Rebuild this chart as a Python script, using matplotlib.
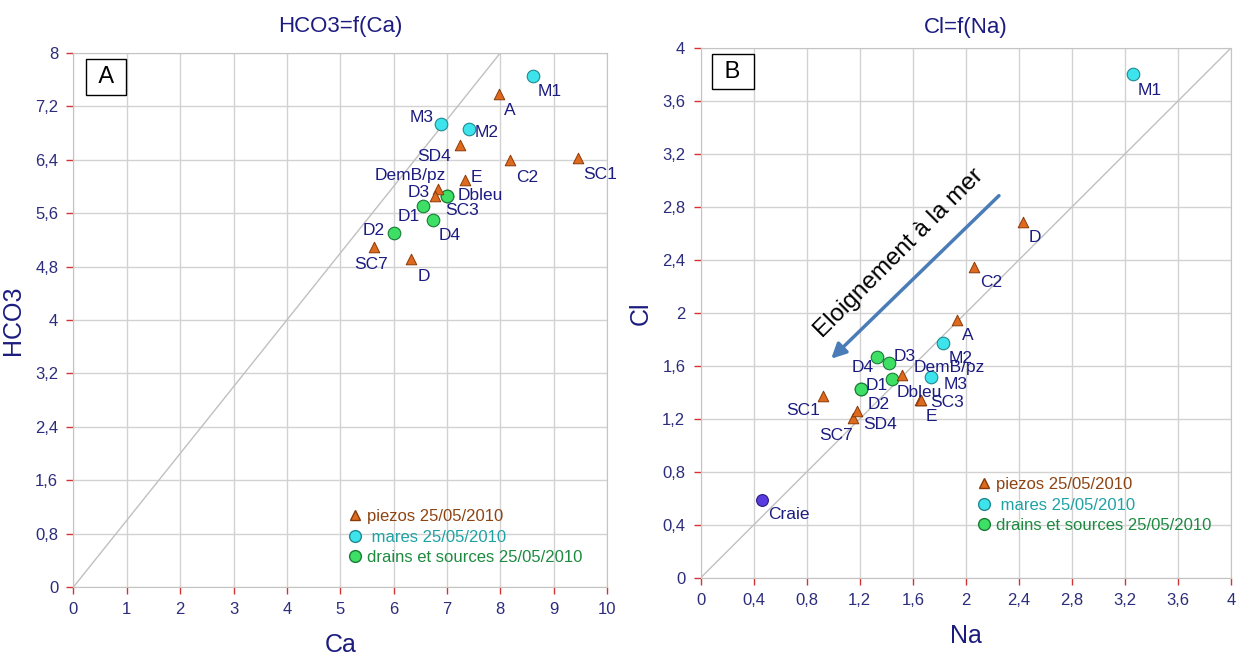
import matplotlib
matplotlib.use('Agg')
import matplotlib.pyplot as plt
from matplotlib.lines import Line2D
from matplotlib.ticker import FuncFormatter

plt.rcParams['font.family'] = ['Liberation Sans', 'DejaVu Sans']

# piezos 25/05/2010
piezo_names = ['A', 'C2', 'D', 'DemB/pz', 'E', 'SC1', 'SC3', 'SC7', 'SD4']
piezo_ca = [7.97, 8.18, 6.33, 6.83, 7.33, 9.46, 6.78, 5.64, 7.25]
piezo_hco3 = [7.39, 6.39, 4.91, 5.96, 6.09, 6.42, 5.86, 5.09, 6.62]
piezo_na = [1.93, 2.06, 2.43, 1.52, 1.655, 0.92, 1.665, 1.15, 1.18]
piezo_cl = [1.945, 2.35, 2.69, 1.53, 1.34, 1.37, 1.345, 1.21, 1.26]

# mares 25/05/2010
mare_names = ['M1', 'M2', 'M3']
mare_ca = [8.61, 7.41, 6.89]
mare_hco3 = [7.66, 6.86, 6.94]
mare_na = [3.26, 1.825, 1.74]
mare_cl = [3.80, 1.77, 1.52]

# drains et sources 25/05/2010
drain_names = ['D1', 'D2', 'D3', 'D4', 'Dbleu']
drain_ca = [6.56, 6.00, 7.00, 6.74, 7.00]
drain_hco3 = [5.71, 5.30, 5.86, 5.50, 5.86]
drain_na = [1.21, 1.21, 1.42, 1.33, 1.44]
drain_cl = [1.43, 1.43, 1.625, 1.67, 1.50]

# craie (Na/Cl only)
craie_names = ['Craie']
craie_na = [0.46]
craie_cl = [0.59]

legend_labels = ['piezos 25/05/2010', ' mares 25/05/2010', 'drains et sources 25/05/2010']

# label offsets in pixels (dx, dy)
off_left = {
    'M1': (17, -16), 'A': (11, -17), 'M3': (-19, 6), 'M2': (18, -3),
    'SD4': (-26, -11), 'C2': (17, -17), 'SC1': (22, -16), 'E': (12, 3),
    'DemB/pz': (-28, 14), 'SC3': (27, -15), 'D3': (-28, 3), 'Dbleu': (33, 0),
    'D1': (-15, -11), 'D4': (17, -16), 'D2': (-20, 3), 'SC7': (-3, -17),
    'D': (13, -17),
}
off_right = {
    'A': (11, -15), 'M2': (18, -15), 'D4': (-14, -11), 'D3': (16, 6),
    'DemB/pz': (47, 8), 'M3': (24, -8), 'Dbleu': (28, -13), 'D1': (16, 3),
    'D2': (18, -16), 'SC1': (-19, -14), 'E': (11, -16), 'SC3': (26, -3),
    'SD4': (23, -13), 'SC7': (-17, -18), 'M1': (17, -16), 'D': (12, -16),
    'C2': (17, -16), 'Craie': (27, -15),
}

NAVY = '#1c1c80'
TRI = dict(marker='^', s=58, color='#dd6a1e', edgecolors='#8a3a08', linewidths=0.7, zorder=4)
CYA = dict(marker='o', s=82, color='#3ee4ec', edgecolors='#1f8a90', linewidths=0.8, zorder=5)
GRN = dict(marker='o', s=82, color='#3de064', edgecolors='#1a7a38', linewidths=0.8, zorder=3)
PUR = dict(marker='o', s=72, color='#5a3be0', edgecolors='#2a1a80', linewidths=0.8, zorder=5)
leg_colors = ['#8e4412', '#1fa2a4', '#1d8a40']


def comma(v, pos):
    return ('%g' % round(v, 1)).replace('.', ',')


def style_axes(ax, xmax, ymax, xstep, ystep, xlabel, ylabel, title, tpad, letter):
    ax.set_xlim(0, xmax)
    ax.set_ylim(0, ymax)
    ax.set_xticks([i * xstep for i in range(int(round(xmax / xstep)) + 1)])
    ax.set_yticks([i * ystep for i in range(int(round(ymax / ystep)) + 1)])
    ax.xaxis.set_major_formatter(FuncFormatter(comma))
    ax.yaxis.set_major_formatter(FuncFormatter(comma))
    ax.tick_params(length=5, width=1, color='#d03434', labelcolor='#2c2c7c',
                   labelsize=12, pad=6)
    ax.grid(True, color='#d2d2d2', lw=1)
    ax.set_axisbelow(True)
    for s in ax.spines.values():
        s.set_color('#c4c4c4')
    ax.plot([0, min(xmax, ymax)], [0, min(xmax, ymax)], color='#c0c0c0', lw=1, zorder=1)
    ax.set_xlabel(xlabel, fontsize=18, color=NAVY, labelpad=11)
    ax.set_ylabel(ylabel, fontsize=18, color=NAVY, labelpad=7)
    ax.set_title(title, fontsize=16, color=NAVY, pad=tpad)
    ax.text(0.061, 0.955, ' ' + letter + ' ', transform=ax.transAxes, fontsize=17,
            ha='center', va='center', zorder=6,
            bbox=dict(boxstyle='square,pad=0.28', fc='white', ec='black', lw=1))


def labels(ax, names, xs, ys, offs):
    for n, x, y in zip(names, xs, ys):
        ax.annotate(n, (x, y), xytext=offs[n], textcoords='offset pixels',
                    ha='center', va='center', fontsize=12.5, color=NAVY, zorder=7)


def legend(ax, anchor):
    handles = [
        Line2D([], [], ls='', marker='^', ms=7, mfc=TRI['color'], mec=TRI['edgecolors']),
        Line2D([], [], ls='', marker='o', ms=8.5, mfc=CYA['color'], mec=CYA['edgecolors']),
        Line2D([], [], ls='', marker='o', ms=8.5, mfc=GRN['color'], mec=GRN['edgecolors']),
    ]
    lg = ax.legend(handles, legend_labels, loc='upper left', bbox_to_anchor=anchor,
                   frameon=False, fontsize=12, handlelength=0.8, handletextpad=0.3,
                   labelspacing=0.33, borderpad=0, borderaxespad=0)
    for t, c in zip(lg.get_texts(), leg_colors):
        t.set_color(c)


fig = plt.figure(figsize=(12.41, 6.58), dpi=100)
ax1 = fig.add_axes([0.0592, 0.1079, 0.4299, 0.8116])
ax2 = fig.add_axes([0.5645, 0.1216, 0.4275, 0.8055])

style_axes(ax1, 10, 8, 1, 0.8, 'Ca', 'HCO3', 'HCO3=f(Ca)', 15, 'A')
ax1.scatter(piezo_ca, piezo_hco3, **TRI)
ax1.scatter(mare_ca, mare_hco3, **CYA)
ax1.scatter(drain_ca, drain_hco3, **GRN)
labels(ax1, piezo_names, piezo_ca, piezo_hco3, off_left)
labels(ax1, mare_names, mare_ca, mare_hco3, off_left)
labels(ax1, drain_names, drain_ca, drain_hco3, off_left)
legend(ax1, (0.516, 0.146))

style_axes(ax2, 4, 4, 0.4, 0.4, 'Na', 'Cl', 'Cl=f(Na)', 11, 'B')
ax2.scatter(piezo_na, piezo_cl, **TRI)
ax2.scatter(mare_na, mare_cl, **CYA)
ax2.scatter(drain_na, drain_cl, **GRN)
ax2.scatter(craie_na, craie_cl, **PUR)
labels(ax2, piezo_names, piezo_na, piezo_cl, off_right)
labels(ax2, mare_names, mare_na, mare_cl, off_right)
labels(ax2, drain_names, drain_na, drain_cl, off_right)
labels(ax2, craie_names, craie_na, craie_cl, off_right)
legend(ax2, (0.522, 0.19))

ax2.annotate('', xy=(0.97, 1.64), xytext=(2.265, 2.90),
             arrowprops=dict(arrowstyle='-|>', color='#4a7cb8', lw=2.5,
                             mutation_scale=22))
ax2.text(1.50, 2.45, 'Eloignement à la mer', rotation=45, fontsize=17.5,
         ha='center', va='center', rotation_mode='anchor')

fig.savefig('out.png', dpi=100)
